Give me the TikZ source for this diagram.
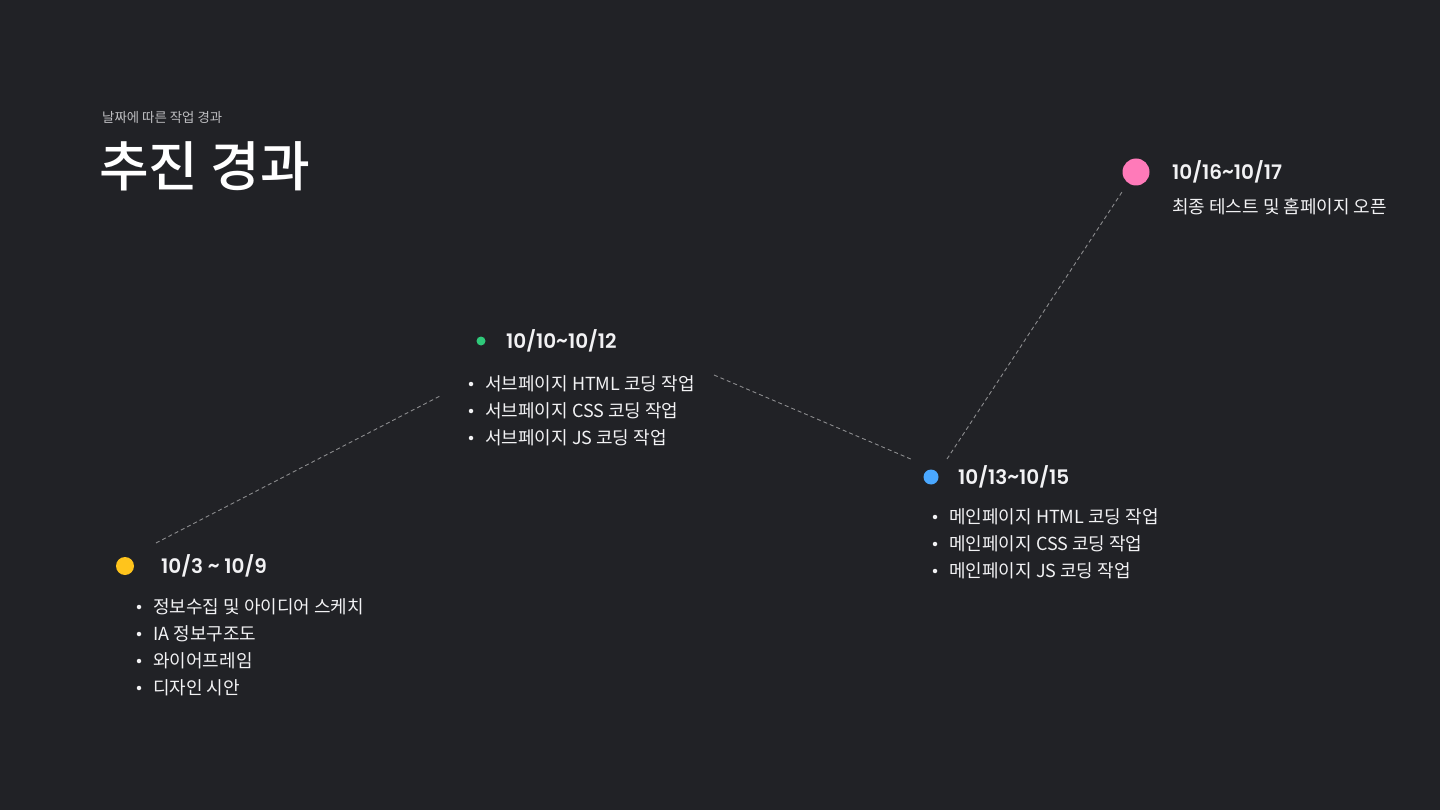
\documentclass[tikz,border=0pt]{standalone}
\usepackage{fontspec}
\setmainfont{Noto Sans CJK KR}
\newfontfamily\titlefont{Noto Sans CJK KR Medium}
\newfontfamily\datefont{Poppins SemiBold}
\usepackage{tikz}
\definecolor{bgdark}{HTML}{212226}
\definecolor{dashgray}{HTML}{8C8C8E}
\definecolor{txtwhite}{HTML}{F2F2F4}
\definecolor{subgray}{HTML}{BDBDC0}
\definecolor{dotyellow}{HTML}{FFC41C}
\definecolor{dotgreen}{HTML}{2FC97A}
\definecolor{dotblue}{HTML}{4AA8FF}
\definecolor{dotpink}{HTML}{FF7AB9}

\begin{document}
\begin{tikzpicture}[x=1pt,y=-1pt,
  datelabel/.style={anchor=west,inner sep=0pt,text=txtwhite,font=\datefont\fontsize{20}{24}\selectfont},
  itemtext/.style={anchor=west,inner sep=0pt,text=txtwhite,font=\fontsize{18}{22}\selectfont},
  bulletdot/.style={circle,fill=txtwhite,inner sep=0pt,minimum size=4.5pt},
  link/.style={dashgray,dashed,dash pattern=on 4pt off 3pt,line width=0.9pt}]

\fill [bgdark] (0,0) rectangle (1440,810);
\useasboundingbox (0,0) rectangle (1440,810);

% heading
\node [anchor=west,inner sep=0pt,text=subgray,font=\fontsize{13.4}{16}\selectfont] (subtitle) at (102,117) {날짜에 따른 작업 경과};
\node [anchor=west,inner sep=0pt,text=white,font=\titlefont\fontsize{54}{60}\selectfont] (title) at (99,166) {추진 경과};

% step 1
\node [circle,fill=dotyellow,inner sep=0pt,minimum size=18pt] (dotA) at (125,566) {};
\node [datelabel] (dateA) at (161,566) {10/3 \raisebox{0.1ex}{\textasciitilde} 10/9};
\foreach \y/\txt in {607/정보수집 및 아이디어 스케치, 634/IA 정보구조도, 661/와이어프레임, 688/디자인 시안}{
  \node [bulletdot] at (139,\y) {};
  \node [itemtext] at (153,\y) {\txt};
}

% step 2
\node [circle,fill=dotgreen,inner sep=0pt,minimum size=9pt] (dotB) at (481,341) {};
\node [datelabel] (dateB) at (506,341) {10/10\raisebox{0.1ex}{\textasciitilde}10/12};
\foreach \y/\txt in {384/서브페이지 HTML 코딩 작업, 411/서브페이지 CSS 코딩 작업, 438/서브페이지 JS 코딩 작업}{
  \node [bulletdot] at (471,\y) {};
  \node [itemtext] at (485,\y) {\txt};
}

% step 3
\node [circle,fill=dotblue,inner sep=0pt,minimum size=15pt] (dotC) at (931,477) {};
\node [datelabel] (dateC) at (958,477) {10/13\raisebox{0.1ex}{\textasciitilde}10/15};
\foreach \y/\txt in {517/메인페이지 HTML 코딩 작업, 544/메인페이지 CSS 코딩 작업, 571/메인페이지 JS 코딩 작업}{
  \node [bulletdot] at (935,\y) {};
  \node [itemtext] at (949,\y) {\txt};
}

% step 4
\node [circle,fill=dotpink,inner sep=0pt,minimum size=27pt] (dotD) at (1136,172) {};
\node [datelabel] (dateD) at (1172,172) {10/16\raisebox{0.1ex}{\textasciitilde}10/17};
\node [itemtext] (textD) at (1172,207) {최종 테스트 및 홈페이지 오픈};

% connectors
\coordinate (linkAstart) at (156,543);
\coordinate (linkAend) at (440,396);
\coordinate (linkBstart) at (714,375);
\coordinate (linkBend) at (913,460);
\coordinate (linkCstart) at (947,459);
\coordinate (linkCend) at (1122,192);
\draw [link] (linkAstart) -- (linkAend);
\draw [link] (linkBstart) -- (linkBend);
\draw [link] (linkCstart) -- (linkCend);

\end{tikzpicture}
\end{document}
